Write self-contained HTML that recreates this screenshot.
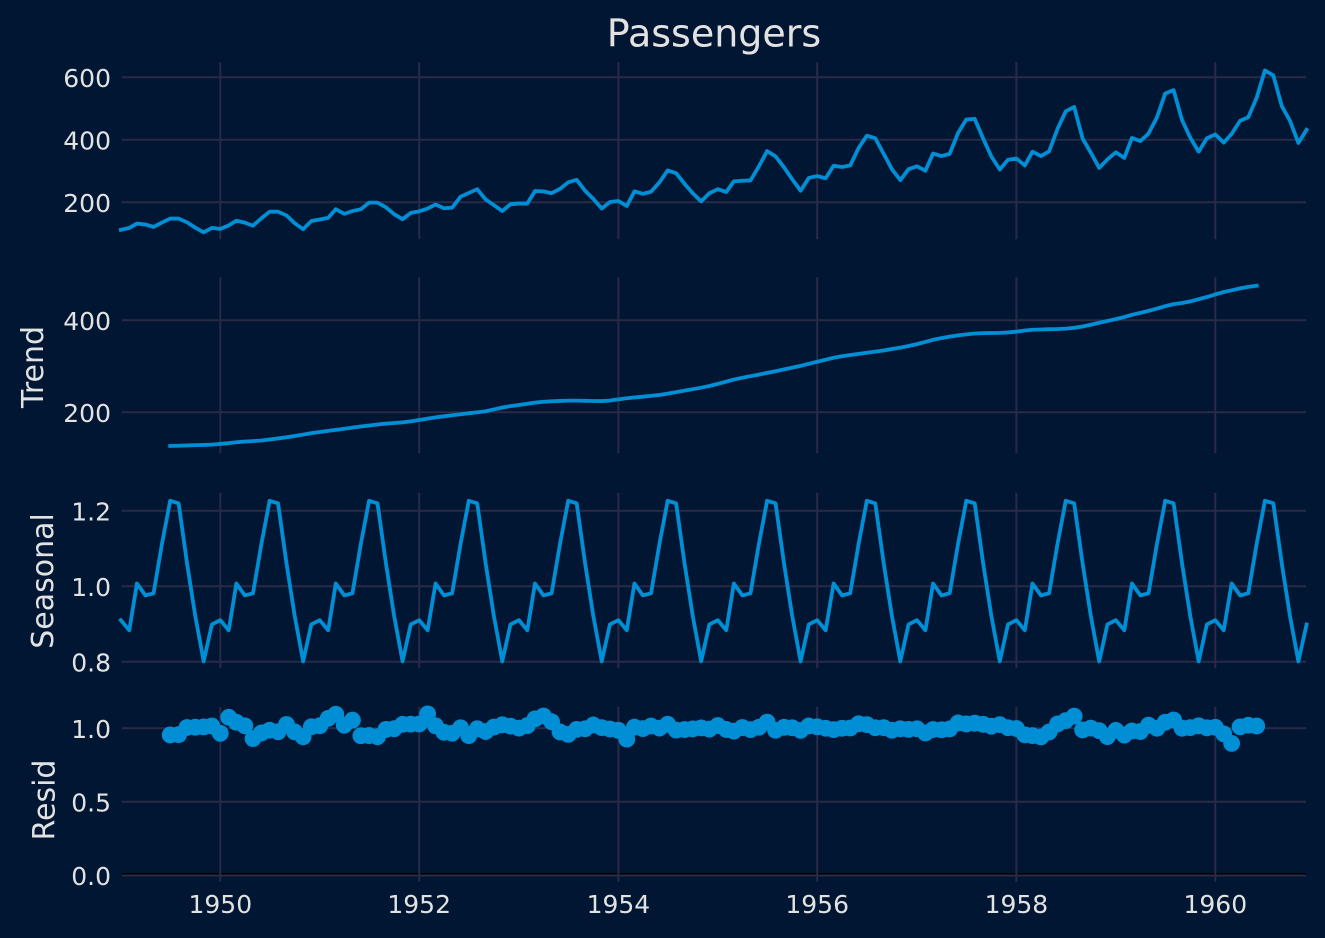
<!DOCTYPE html>
<html>
<head>
<meta charset="utf-8">
<style>
html,body{margin:0;padding:0;background:#001633;}
svg{display:block;}
text{font-family:"DejaVu Sans","Liberation Sans",sans-serif;fill:#e2e2e2;}
.tk{font-size:25px;}
.yl{font-size:30px;}
.grid line{stroke:#2a2a46;stroke-width:2;}
</style>
</head>
<body>
<svg id="chart" width="1325" height="938" viewBox="0 0 1325 938" xmlns="http://www.w3.org/2000/svg">
<rect x="0" y="0" width="1325" height="938" fill="#001633"/>
<line x1="121.7" y1="873.8" x2="1306" y2="873.8" stroke="#000000" stroke-width="1.6"/>
<g class="grid">
  <line x1="121.7" y1="77.3" x2="1306" y2="77.3"/>
  <line x1="121.7" y1="139.8" x2="1306" y2="139.8"/>
  <line x1="121.7" y1="202.3" x2="1306" y2="202.3"/>
  <line x1="220.3" y1="62.3" x2="220.3" y2="239.3"/>
  <line x1="419.2" y1="62.3" x2="419.2" y2="239.3"/>
  <line x1="618.4" y1="62.3" x2="618.4" y2="239.3"/>
  <line x1="817.2" y1="62.3" x2="817.2" y2="239.3"/>
  <line x1="1016.4" y1="62.3" x2="1016.4" y2="239.3"/>
  <line x1="1215.3" y1="62.3" x2="1215.3" y2="239.3"/>
  <line x1="121.7" y1="320.3" x2="1306" y2="320.3"/>
  <line x1="121.7" y1="412.3" x2="1306" y2="412.3"/>
  <line x1="220.3" y1="277.3" x2="220.3" y2="453.3"/>
  <line x1="419.2" y1="277.3" x2="419.2" y2="453.3"/>
  <line x1="618.4" y1="277.3" x2="618.4" y2="453.3"/>
  <line x1="817.2" y1="277.3" x2="817.2" y2="453.3"/>
  <line x1="1016.4" y1="277.3" x2="1016.4" y2="453.3"/>
  <line x1="1215.3" y1="277.3" x2="1215.3" y2="453.3"/>
  <line x1="121.7" y1="510.8" x2="1306" y2="510.8"/>
  <line x1="121.7" y1="586.3" x2="1306" y2="586.3"/>
  <line x1="121.7" y1="661.8" x2="1306" y2="661.8"/>
  <line x1="220.3" y1="492.7" x2="220.3" y2="668.3"/>
  <line x1="419.2" y1="492.7" x2="419.2" y2="668.3"/>
  <line x1="618.4" y1="492.7" x2="618.4" y2="668.3"/>
  <line x1="817.2" y1="492.7" x2="817.2" y2="668.3"/>
  <line x1="1016.4" y1="492.7" x2="1016.4" y2="668.3"/>
  <line x1="1215.3" y1="492.7" x2="1215.3" y2="668.3"/>
  <line x1="121.7" y1="728.3" x2="1306" y2="728.3"/>
  <line x1="121.7" y1="801.8" x2="1306" y2="801.8"/>
  <line x1="121.7" y1="875.5" x2="1306" y2="875.5"/>
  <line x1="220.3" y1="706.7" x2="220.3" y2="881.7"/>
  <line x1="419.2" y1="706.7" x2="419.2" y2="881.7"/>
  <line x1="618.4" y1="706.7" x2="618.4" y2="881.7"/>
  <line x1="817.2" y1="706.7" x2="817.2" y2="881.7"/>
  <line x1="1016.4" y1="706.7" x2="1016.4" y2="881.7"/>
  <line x1="1215.3" y1="706.7" x2="1215.3" y2="881.7"/>
</g>

<g id="series"></g>

<text x="714" y="46.5" text-anchor="middle" style="font-size:38px">Passengers</text>

<g class="tk" text-anchor="end">
  <text x="111" y="87">600</text>
  <text x="111" y="149.5">400</text>
  <text x="111" y="212">200</text>
  <text x="111" y="330">400</text>
  <text x="111" y="422">200</text>
  <text x="111" y="520.5">1.2</text>
  <text x="111" y="596">1.0</text>
  <text x="111" y="671.5">0.8</text>
  <text x="111" y="738">1.0</text>
  <text x="111" y="811.5">0.5</text>
  <text x="111" y="885">0.0</text>
</g>

<g class="tk" text-anchor="middle">
  <text x="220.3" y="913">1950</text>
  <text x="419.2" y="913">1952</text>
  <text x="618.4" y="913">1954</text>
  <text x="817.2" y="913">1956</text>
  <text x="1016.4" y="913">1958</text>
  <text x="1215.3" y="913">1960</text>
</g>

<text class="yl" text-anchor="middle" transform="translate(43,367) rotate(-90)">Trend</text>
<text class="yl" text-anchor="middle" transform="translate(53,581) rotate(-90)">Seasonal</text>
<text class="yl" text-anchor="middle" transform="translate(54.5,800) rotate(-90)">Resid</text>
</svg>

<script>
(function(){
var d=[112,118,132,129,121,135,148,148,136,119,104,118,
115,126,141,135,125,149,170,170,158,133,114,140,
145,150,178,163,172,178,199,199,184,162,146,166,
171,180,193,181,183,218,230,242,209,191,172,194,
196,196,236,235,229,243,264,272,237,211,180,201,
204,188,235,227,234,264,302,293,259,229,203,229,
242,233,267,269,270,315,364,347,312,274,237,278,
284,277,317,313,318,374,413,405,355,306,271,306,
315,301,356,348,355,422,465,467,404,347,305,336,
340,318,362,348,363,435,491,505,404,359,310,337,
360,342,406,396,420,472,548,559,463,407,362,405,
417,391,419,461,472,535,622,606,508,461,390,432];
var n=d.length,i,j;
var trend=new Array(n).fill(null);
for(i=6;i<n-6;i++){
  var s=0.5*d[i-6]+0.5*d[i+6];
  for(j=i-5;j<=i+5;j++) s+=d[j];
  trend[i]=s/12;
}
var pa=[];
for(var m=0;m<12;m++){
  var sum=0,c=0;
  for(i=m;i<n;i+=12){ if(trend[i]!==null){ sum+=d[i]/trend[i]; c++; } }
  pa.push(sum/c);
}
var mean=pa.reduce(function(a,b){return a+b;},0)/12;
pa=pa.map(function(v){return v/mean;});
var seas=[],resid=[];
for(i=0;i<n;i++){
  seas.push(pa[i%12]);
  resid.push(trend[i]===null?null:d[i]/(trend[i]*pa[i%12]));
}
var base=Date.UTC(1950,0,1);
function X(i){
  var y=1949+Math.floor(i/12), mo=i%12;
  var days=(Date.UTC(y,mo,1)-base)/86400000;
  return 220.3+days*995/3652;
}
function y1(v){return 202.3-(v-200)*0.3125;}
function y2(v){return 412.3-(v-200)*0.46;}
function y3(v){return 586.3-(v-1)*377.5;}
function y4(v){return 875.3-v*147.5;}
function poly(arr,fy){
  var pts=[];
  for(var k=0;k<arr.length;k++){ if(arr[k]!==null) pts.push(X(k).toFixed(2)+","+fy(arr[k]).toFixed(2)); }
  return pts.join(" ");
}
var ns="http://www.w3.org/2000/svg";
var g=document.getElementById("series");
function addLine(pts){
  var p=document.createElementNS(ns,"polyline");
  p.setAttribute("points",pts);
  p.setAttribute("fill","none");
  p.setAttribute("stroke","#008fd5");
  p.setAttribute("stroke-width","3.8");
  p.setAttribute("stroke-linejoin","round");
  p.setAttribute("stroke-linecap","square");
  g.appendChild(p);
}
addLine(poly(d,y1));
addLine(poly(trend,y2));
addLine(poly(seas,y3));
for(i=0;i<n;i++){
  if(resid[i]===null) continue;
  var c=document.createElementNS(ns,"circle");
  c.setAttribute("cx",X(i).toFixed(2));
  c.setAttribute("cy",y4(resid[i]).toFixed(2));
  c.setAttribute("r","8.4");
  c.setAttribute("fill","#008fd5");
  g.appendChild(c);
}
})();
</script>
</body>
</html>
